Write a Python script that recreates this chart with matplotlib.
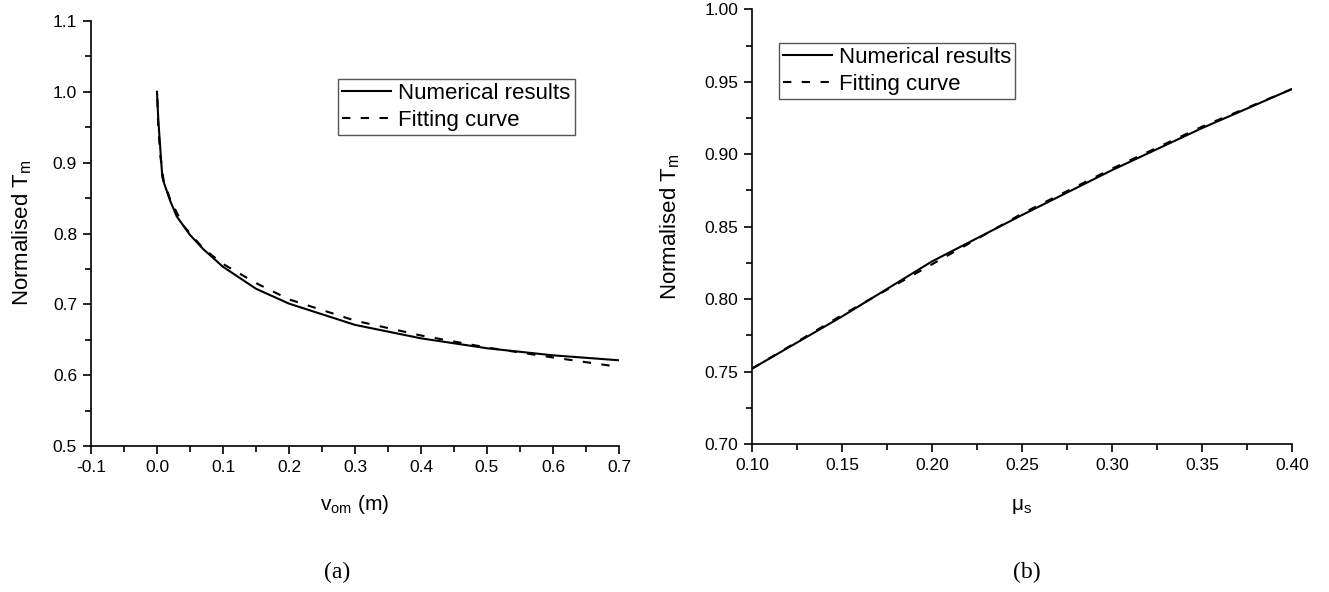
import matplotlib
matplotlib.use("Agg")
import matplotlib.pyplot as plt
from matplotlib.ticker import MultipleLocator, FormatStrFormatter

plt.rcParams['font.family'] = ['Liberation Sans', 'DejaVu Sans']
plt.rcParams['mathtext.fontset'] = 'custom'
plt.rcParams['mathtext.rm'] = 'Liberation Sans'

# ---- panel (a) data ----
a_num_x = [0.0, 0.002, 0.005, 0.008, 0.01, 0.02, 0.03, 0.05, 0.07, 0.1, 0.15, 0.2, 0.3, 0.4, 0.5, 0.6, 0.7]
a_num_y = [1.0, 0.96, 0.92, 0.88, 0.873, 0.846, 0.824, 0.798, 0.778, 0.753, 0.722, 0.701, 0.671, 0.652, 0.638, 0.628, 0.621]
a_fit_x = [0.0005, 0.002, 0.005, 0.01, 0.02, 0.04, 0.07, 0.1, 0.15, 0.2, 0.3, 0.4, 0.5, 0.6, 0.69]
a_fit_y = [0.99, 0.95, 0.91, 0.875, 0.848, 0.811, 0.779, 0.757, 0.730, 0.707, 0.677, 0.656, 0.639, 0.625, 0.613]

# ---- panel (b) data ----
b_num_x = [0.10, 0.125, 0.15, 0.175, 0.20, 0.25, 0.30, 0.35, 0.40]
b_num_y = [0.752, 0.770, 0.788, 0.807, 0.826, 0.858, 0.889, 0.918, 0.945]
b_fit_x = [0.10, 0.15, 0.20, 0.25, 0.30, 0.35, 0.40]
b_fit_y = [0.752, 0.789, 0.824, 0.859, 0.890, 0.919, 0.945]

labels = ["Numerical results", "Fitting curve"]

W, H = 1329, 592
fig = plt.figure(figsize=(W / 100, H / 100), dpi=100)

def frac(x0, y0, x1, y1):
    return [x0 / W, 1 - y1 / H, (x1 - x0) / W, (y1 - y0) / H]

axa = fig.add_axes(frac(91, 21, 619, 446))
axb = fig.add_axes(frac(752, 9.3, 1292, 444))

dash = (0, (4, 5))
for ax in (axa, axb):
    for s in ('top', 'right'):
        ax.spines[s].set_visible(False)
    for s in ('left', 'bottom'):
        ax.spines[s].set_linewidth(1.2)
    ax.tick_params(which='major', direction='out', length=6, width=1.2, labelsize=12.5, pad=4)
    ax.tick_params(which='minor', direction='out', length=4, width=1.2)

axa.plot(a_num_x, a_num_y, color='black', lw=1.5, label=labels[0])
axa.plot(a_fit_x, a_fit_y, color='black', lw=1.5, linestyle=dash, label=labels[1])
axa.set_xlim(-0.1, 0.7)
axa.set_ylim(0.5, 1.1)
axa.xaxis.set_major_locator(MultipleLocator(0.1))
axa.xaxis.set_minor_locator(MultipleLocator(0.05))
axa.yaxis.set_major_locator(MultipleLocator(0.1))
axa.yaxis.set_minor_locator(MultipleLocator(0.05))
axa.xaxis.set_major_formatter(FormatStrFormatter('%.1f'))
axa.yaxis.set_major_formatter(FormatStrFormatter('%.1f'))

axb.plot(b_num_x, b_num_y, color='black', lw=1.5, label=labels[0])
axb.plot(b_fit_x, b_fit_y, color='black', lw=1.5, linestyle=dash, label=labels[1])
axb.set_xlim(0.10, 0.40)
axb.set_ylim(0.70, 1.00)
axb.xaxis.set_major_locator(MultipleLocator(0.05))
axb.xaxis.set_minor_locator(MultipleLocator(0.025))
axb.yaxis.set_major_locator(MultipleLocator(0.05))
axb.yaxis.set_minor_locator(MultipleLocator(0.025))
axb.xaxis.set_major_formatter(FormatStrFormatter('%.2f'))
axb.yaxis.set_major_formatter(FormatStrFormatter('%.2f'))

ylab = r'Normalised $\mathregular{T_m}$'
fig.text(22 / W, 1 - 233 / H, ylab, rotation=90, ha='center', va='center', fontsize=16)
fig.text(670 / W, 1 - 227 / H, ylab, rotation=90, ha='center', va='center', fontsize=16)
fig.text(355 / W, 1 - 504 / H, r'$\mathregular{v_{om}}$ (m)', ha='center', va='center', fontsize=15)
fig.text(1022 / W, 1 - 507 / H, r'$\mathregular{\mu_s}$', ha='center', va='center', fontsize=15)

fig.text(337 / W, 1 - 572 / H, '(a)', ha='center', va='center', fontsize=17, family='Liberation Serif')
fig.text(1027 / W, 1 - 572 / H, '(b)', ha='center', va='center', fontsize=17, family='Liberation Serif')

leg_kw = dict(fontsize=16, handlelength=2.2, handletextpad=0.3, borderpad=0.2,
              labelspacing=0.25, borderaxespad=0, fancybox=False, framealpha=1,
              edgecolor='#555555', loc='upper left')
la = axa.legend(bbox_to_anchor=(338 / W, 1 - 78.7 / H), bbox_transform=fig.transFigure, **leg_kw)
lb = axb.legend(bbox_to_anchor=(778.7 / W, 1 - 42.7 / H), bbox_transform=fig.transFigure, **leg_kw)
for lg in (la, lb):
    lg.get_frame().set_linewidth(1.0)

fig.savefig('out.png', dpi=100)
